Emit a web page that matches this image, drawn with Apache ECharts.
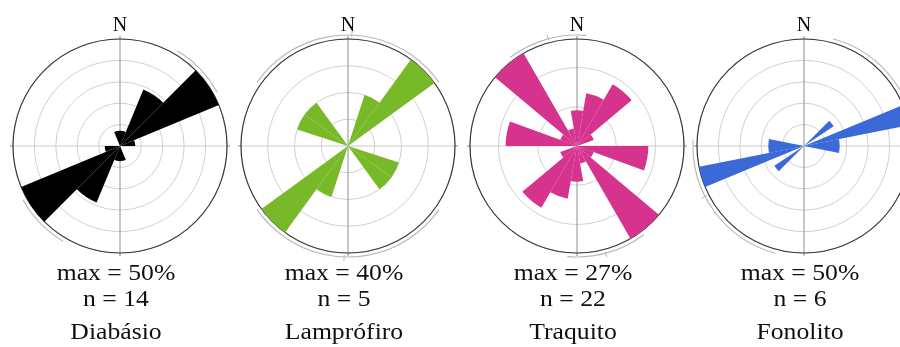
<!DOCTYPE html>
<html>
<head>
<meta charset="utf-8">
<script src="https://cdn.jsdelivr.net/npm/echarts@6/dist/echarts.min.js"></script>
<style>
  html, body { margin: 0; padding: 0; background: #fff; }
  #chart { width: 900px; height: 347px; }
</style>
</head>
<body>
<div id="chart"></div>
<script>
// Rock types and number of measured dykes
const rocks = ['Diabásio', 'Lamprófiro', 'Traquito', 'Fonolito'];
const sampleSizes = [14, 5, 22, 6];

// Azimuth classes [from, to] in degrees (axial data: each class is mirrored at +180)
const diabasioClasses = [[-22.5, 0], [0, 22.5], [22.5, 45], [45, 67.5], [67.5, 90]];
const diabasioCounts = [1, 1, 4, 7, 1];

const lamprofiroClasses = [[18, 36], [36, 54], [108, 126], [126, 144]];
const lamprofiroCounts = [1, 2, 1, 1];

const traquitoClasses = [[-10, 10], [10, 30], [30, 50], [50, 70], [90, 110], [110, 130], [130, 150], [150, 170]];
const traquitoCounts = [2, 3, 4, 1, 4, 1, 6, 1];

const fonolitoClasses = [[45, 56.25], [67.5, 78.75], [78.75, 90], [90, 101.25]];
const fonolitoCounts = [1, 3, 1, 1];

// Mean-direction arcs [from, to, mean] drawn just outside each rose (also mirrored)
const meanArcs = [[31, 61, null], [-55, 55, 2], [-37, 5, -15], [15, 93, 63]];

// Ring spacing in percent
const ringStep = 10;

const classes = [diabasioClasses, lamprofiroClasses, traquitoClasses, fonolitoClasses];
const counts = [diabasioCounts, lamprofiroCounts, traquitoCounts, fonolitoCounts];
const colors = ['#000000', '#77b928', '#d6338f', '#3b69d8'];

// layout
const centersX = [120, 348, 577, 804];
const centerY = 146;
const roseRadius = 107;
const serif = '"Liberation Serif", "Times New Roman", serif';

const chart = echarts.init(document.getElementById('chart'), null, { renderer: 'canvas' });

const percentData = counts.map((c, i) => c.map(v => v / sampleSizes[i] * 100));
const maxPercent = percentData.map(p => Math.max.apply(null, p));

const polar = [], angleAxis = [], radiusAxis = [], series = [], graphic = [];

function sectorAngles(api, cx, cy, r, d0, d1) {
  const p0 = api.coord([r, d0]);
  const p1 = api.coord([r, d1]);
  let a0 = Math.atan2(p0[1] - cy, p0[0] - cx);
  let a1 = Math.atan2(p1[1] - cy, p1[0] - cx);
  if (a1 <= a0) a1 += Math.PI * 2;
  return [a0, a1];
}

rocks.forEach((name, i) => {
  polar.push({ center: [centersX[i], centerY], radius: roseRadius });
  angleAxis.push({
    polarIndex: i,
    type: 'value',
    min: 0, max: 360, interval: 45,
    startAngle: 90, clockwise: true,
    axisLine: { show: true, lineStyle: { color: '#3a3a3a', width: 1.2 } },
    axisTick: { show: true, customValues: [0, 90, 180, 270], length: 3, inside: false,
                lineStyle: { color: '#8a8a8a', width: 1 } },
    axisLabel: { show: true, customValues: [0], formatter: () => 'N', margin: 3,
                 fontFamily: serif, fontSize: 20, color: '#111' },
    splitLine: { show: true, lineStyle: { color: ['#8f8f8f', '#cccccc'], width: 1 } }
  });
  radiusAxis.push({
    polarIndex: i,
    type: 'value',
    min: 0, max: maxPercent[i], interval: ringStep,
    axisLine: { show: false }, axisTick: { show: false }, axisLabel: { show: false },
    splitLine: { show: true, lineStyle: { color: '#d0d0d0', width: 1 } }
  });

  // rose petals (each class and its opposite)
  const rows = classes[i].map((c, k) => [c[0], c[1], percentData[i][k]]);
  series.push({
    type: 'custom',
    coordinateSystem: 'polar',
    polarIndex: i,
    data: rows,
    encode: { radius: 2, angle: 0 },
    z: 5,
    renderItem: (params, api) => {
      const cs = params.coordSys;
      const d0 = api.value(0), d1 = api.value(1), v = api.value(2);
      const children = [];
      [0, 180].forEach(off => {
        const p = api.coord([v, d0 + off]);
        const r = Math.hypot(p[0] - cs.cx, p[1] - cs.cy);
        const a = sectorAngles(api, cs.cx, cs.cy, v, d0 + off, d1 + off);
        children.push({
          type: 'sector',
          shape: { cx: cs.cx, cy: cs.cy, r0: 0, r: r, startAngle: a[0], endAngle: a[1], clockwise: true },
          style: { fill: colors[i] }
        });
      });
      return { type: 'group', children };
    }
  });

  // mean direction arcs outside the outer circle
  series.push({
    type: 'custom',
    coordinateSystem: 'polar',
    polarIndex: i,
    data: [meanArcs[i]],
    encode: { angle: 0 },
    z: 4,
    silent: true,
    renderItem: (params, api) => {
      const cs = params.coordSys;
      const row = meanArcs[i];
      const outer = maxPercent[i];
      const children = [];
      [0, 180].forEach(off => {
        const a = sectorAngles(api, cs.cx, cs.cy, outer, row[0] + off, row[1] + off);
        children.push({
          type: 'arc',
          shape: { cx: cs.cx, cy: cs.cy, r: cs.r + 4, startAngle: a[0], endAngle: a[1], clockwise: true },
          style: { stroke: '#b9b9b9', lineWidth: 1.2, fill: null }
        });
        if (row[2] !== null) {
          const p = api.coord([outer, row[2] + off]);
          const ux = (p[0] - cs.cx) / cs.r, uy = (p[1] - cs.cy) / cs.r;
          children.push({
            type: 'line',
            shape: { x1: cs.cx + ux * (cs.r + 2), y1: cs.cy + uy * (cs.r + 2),
                     x2: cs.cx + ux * (cs.r + 8), y2: cs.cy + uy * (cs.r + 8) },
            style: { stroke: '#b9b9b9', lineWidth: 1 }
          });
        }
      });
      return { type: 'group', children };
    }
  });

  // captions under each rose
  const tx = centersX[i] - 4;
  const captionStyle = (text) => ({
    text, font: '24px ' + serif, fill: '#111', align: 'center', verticalAlign: 'middle'
  });
  graphic.push({ type: 'text', x: tx, y: 274, scaleX: 1.07,
                 style: captionStyle('max = ' + Math.round(maxPercent[i]) + '%') });
  graphic.push({ type: 'text', x: tx, y: 300, scaleX: 1.07,
                 style: captionStyle('n = ' + sampleSizes[i]) });
  graphic.push({ type: 'text', x: tx, y: 333, scaleX: 1.07,
                 style: captionStyle(name) });
});

chart.setOption({
  animation: false,
  backgroundColor: '#fff',
  polar, angleAxis, radiusAxis, series, graphic
});
</script>
</body>
</html>
